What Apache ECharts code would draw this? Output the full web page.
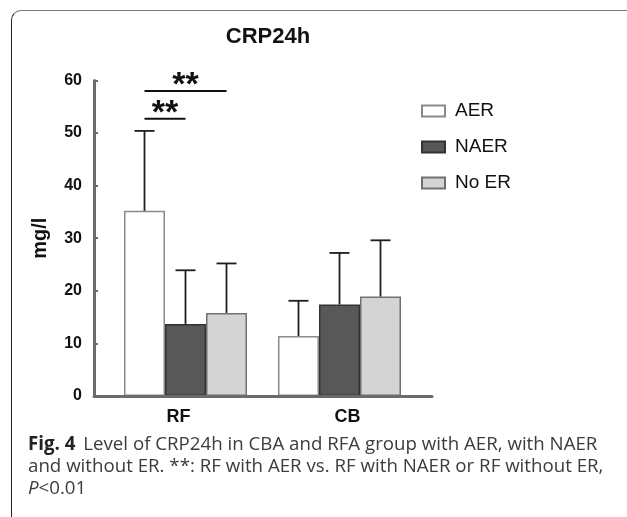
<!DOCTYPE html>
<html>
<head>
<meta charset="utf-8">
<title>CRP24h</title>
<script src="https://cdn.jsdelivr.net/npm/echarts@6/dist/echarts.min.js"></script>
<style>
  html, body { margin: 0; padding: 0; background: #fff; }
  #page { position: relative; width: 627px; height: 517px; overflow: hidden; background: #fff; }
  #frame {
    position: absolute; left: 11px; top: 10px; width: 700px; height: 520px;
    border-top: 1.5px solid #7a7a7a; border-left: 1.5px solid #222;
    border-top-left-radius: 10px; border-bottom-left-radius: 10px;
    box-sizing: border-box;
  }
  #chart { position: absolute; left: 0; top: 0; width: 627px; height: 517px; }
  #caption {
    position: absolute; left: 28px; top: 432px; width: 598px;
    font-family: "Open Sans", "Noto Sans", sans-serif; font-size: 18.7px;
    line-height: 22px; color: #3c3c3c; white-space: nowrap;
  }
  #caption b { color: #222; font-weight: 700; margin-right: 3px; }
</style>
</head>
<body>
<div id="page">
  <div id="frame"></div>
  <div id="chart"></div>
  <div id="caption"><b>Fig. 4</b> Level of CRP24h in CBA and RFA group with AER, with NAER<br>and without ER. **: RF with AER vs. RF with NAER or RF without ER,<br><i>P</i>&lt;0.01</div>
</div>
<script>
// Groups and measurement series
const categories = ['RF', 'CB'];
const seriesNames = ['AER', 'NAER', 'No ER'];

// Mean CRP at 24 h (mg/l)
const aerMean = [35.2, 11.4];
const naerMean = [13.7, 17.4];
const noErMean = [15.8, 18.9];

// Top of the error bar (mean + SD)
const aerUpper = [50.4, 18.1];
const naerUpper = [23.9, 27.2];
const noErUpper = [25.2, 29.6];

// Value axis
const yMin = 0;
const yMax = 60;
const yStep = 10;

// Significance brackets (drawn within one group, between two series)
const sigCategory = [0, 0];
const sigFrom = [0, 0];
const sigTo = [1, 2];
const sigLevel = [52.7, 58.0];
const sigText = ['**', '**'];

// ---- layout / style ----
const BAR_W = 41;
const FONT = '"Liberation Sans", Arial, sans-serif';
const fills = ['#ffffff', '#585858', '#d4d4d4'];
const borders = ['#8a8a8a', '#333333', '#707070'];
const means = [aerMean, naerMean, noErMean];
const uppers = [aerUpper, naerUpper, noErUpper];

const chart = echarts.init(document.getElementById('chart'), null, { renderer: 'canvas' });

const axisGrid = { left: 94, right: 195, top: 80.4, bottom: 121 };
const barGrid = { left: 108.5, right: 210.5, top: 80.4, bottom: 121 };

function barCenter(api, cat, value, k) {
  const p = api.coord([cat, value]);
  return [p[0] + (k - 1) * BAR_W, p[1]];
}

const barSeries = seriesNames.map((name, k) => ({
  name: name,
  type: 'bar',
  xAxisIndex: 1,
  yAxisIndex: 1,
  barWidth: BAR_W,
  barGap: '0%',
  data: means[k],
  itemStyle: { color: fills[k], borderColor: borders[k], borderWidth: 1.5 },
  z: 2
}));

const errorSeries = seriesNames.map((name, k) => ({
  type: 'custom',
  xAxisIndex: 1,
  yAxisIndex: 1,
  silent: true,
  z: 4,
  encode: { x: 0, y: [1, 2] },
  data: categories.map((c, i) => [i, means[k][i], uppers[k][i]]),
  renderItem: function (params, api) {
    const cat = api.value(0);
    const base = barCenter(api, cat, api.value(1), k);
    const top = barCenter(api, cat, api.value(2), k);
    const style = { stroke: '#1e1e1e', lineWidth: 1.8 };
    return {
      type: 'group',
      children: [
        { type: 'line', shape: { x1: base[0], y1: base[1], x2: top[0], y2: top[1] }, style: style },
        { type: 'line', shape: { x1: top[0] - 10, y1: top[1], x2: top[0] + 10, y2: top[1] }, style: style }
      ]
    };
  }
}));

const sigSeries = {
  type: 'custom',
  xAxisIndex: 1,
  yAxisIndex: 1,
  silent: true,
  z: 5,
  encode: { x: 0, y: 3 },
  data: sigCategory.map((c, i) => [c, sigFrom[i], sigTo[i], sigLevel[i]]),
  renderItem: function (params, api) {
    const i = params.dataIndex;
    const cat = api.value(0);
    const a = barCenter(api, cat, api.value(3), api.value(1));
    const b = barCenter(api, cat, api.value(3), api.value(2));
    return {
      type: 'group',
      children: [
        { type: 'line', shape: { x1: a[0], y1: a[1], x2: b[0], y2: b[1] }, style: { stroke: '#111', lineWidth: 2 } },
        {
          type: 'text',
          style: {
            text: sigText[i], x: (a[0] + b[0]) / 2, y: a[1] + 12,
            align: 'center', verticalAlign: 'bottom',
            font: 'bold 34px ' + FONT, fill: '#111'
          }
        }
      ]
    };
  }
};

chart.setOption({
  backgroundColor: 'transparent',
  animation: false,
  title: {
    text: 'CRP24h',
    left: 263, top: 21, textAlign: 'center',
    textStyle: { fontFamily: FONT, fontWeight: 'bold', fontSize: 22, color: '#111' }
  },
  legend: {
    data: seriesNames,
    orient: 'vertical',
    left: 416, top: 95,
    icon: 'rect',
    itemWidth: 23, itemHeight: 11, itemGap: 14,
    textStyle: { fontFamily: FONT, fontSize: 19, color: '#111', padding: [0, 0, 0, 5], lineHeight: 22 }
  },
  grid: [axisGrid, barGrid],
  xAxis: [
    {
      type: 'category', gridIndex: 0, data: categories, z: 6,
      axisLine: { lineStyle: { color: '#6b6b6b', width: 3 } },
      axisTick: { show: false },
      axisLabel: { fontFamily: FONT, fontWeight: 'bold', fontSize: 18, color: '#111', margin: 12 }
    },
    { type: 'category', gridIndex: 1, data: categories, show: false }
  ],
  yAxis: [
    {
      type: 'value', gridIndex: 0, min: yMin, max: yMax, interval: yStep, z: 6,
      name: 'mg/l', nameLocation: 'middle', nameGap: 44, nameRotate: 90,
      nameTextStyle: { fontFamily: FONT, fontWeight: 'bold', fontSize: 20, color: '#111' },
      axisLine: { show: true, lineStyle: { color: '#6b6b6b', width: 3 } },
      axisTick: { show: true, inside: true, length: 4, lineStyle: { color: '#6b6b6b', width: 2 } },
      axisLabel: { fontFamily: FONT, fontWeight: 'bold', fontSize: 16, color: '#111', margin: 12 },
      splitLine: { show: false }
    },
    { type: 'value', gridIndex: 1, min: yMin, max: yMax, interval: yStep, show: false, splitLine: { show: false } }
  ],
  series: barSeries.concat(errorSeries, [sigSeries])
});
</script>
</body>
</html>
